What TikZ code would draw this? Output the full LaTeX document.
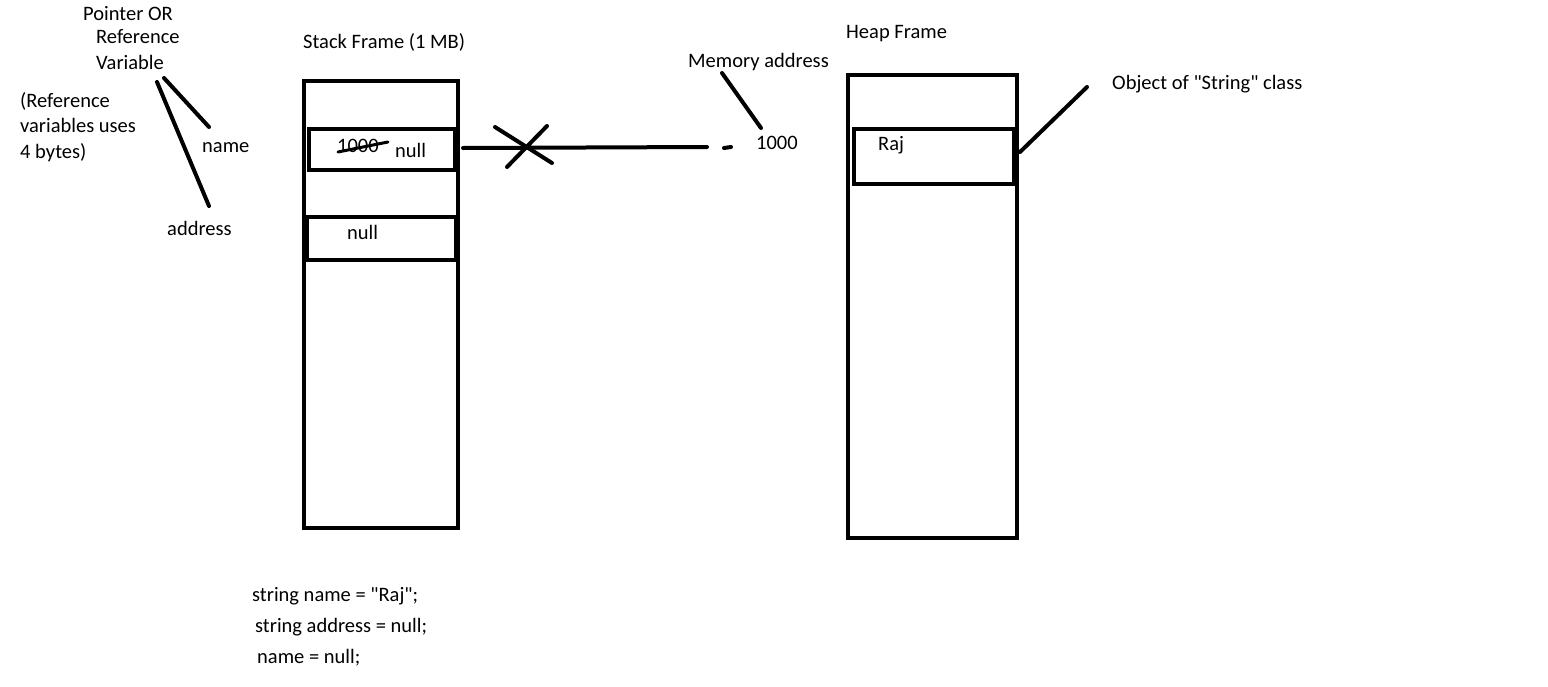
\documentclass[tikz,border=0pt]{standalone}
\usepackage{fontspec}
\setmainfont{Carlito}[Ligatures=TeXOff]
\usetikzlibrary{positioning}

\tikzset{
  box/.style = {draw, line width = 4pt, minimum width = #1, inner sep = 0pt},
  lbl/.style = {anchor = base west, inner sep = 0pt, font = \fontsize{20.5}{24}\selectfont},
  stroke/.style = {line width = 4pt, line cap = round}
}

\begin{document}
\begin{tikzpicture} [x = 1pt, y = -1pt]
\useasboundingbox (0, 0) rectangle (1548, 686);
% frames
\node[box = 153.5pt, minimum height = 447pt] (stack) at (380.75, 304.5){};
\node[box = 146pt, minimum height = 41pt] (namecell) at (382.0, 149.5){};
\node[box = 148.5pt, minimum height = 43pt] (addrcell) at (381.25, 238.5){};
\node[box = 169pt, minimum height = 463pt] (heap) at (932.5, 306.5){};
\node[box = 160pt, minimum height = 55pt] (objcell) at (934.0, 156.5){};
% titles
\node[lbl] (stacktitle) at (303, 48){Stack Frame (1 MB)};
\node[lbl] (heaptitle) at (846, 38){Heap Frame};
% left labels
\node[lbl] (pointer) at (83, 20){Pointer OR};
\node[lbl] (reference) at (96, 43){Reference};
\node[lbl] (variable) at (96, 69){Variable};
\node[lbl] (note1) at (20, 107){(Reference};
\node[lbl] (note2) at (20, 132){variables uses};
\node[lbl] (note3) at (20, 158){4 bytes)};
\node[lbl] (namelbl) at (202, 152){name};
\node[lbl] (addrlbl) at (167, 235){address};
% cell contents
\node[lbl] (oldval) at (337, 152){1000};
\node[lbl] (nameval) at (395, 157){null};
\node[lbl] (addrval) at (347, 239){null};
\node[lbl] (rajval) at (878, 150){Raj};
% memory address
\node[lbl] (memlbl) at (688, 67){Memory address};
\node[lbl] (memval) at (756, 149){1000};
\node[lbl] (objlbl) at (1112, 89){Object of "String" class};
% code
\node[lbl] (code1) at (252, 601){string name = "Raj";};
\node[lbl] (code2) at (255, 632){string address = null;};
\node[lbl] (code3) at (257, 663){name = null;};
% line ends
\coordinate (v1) at (164, 78);
\coordinate (n1) at (209, 127);
\coordinate (v2) at (157, 82);
\coordinate (a1) at (209, 206);
\coordinate (s1) at (338, 152);
\coordinate (s2) at (388, 142);
\coordinate (p1) at (463, 148);
\coordinate (p2) at (707, 147);
\coordinate (d1) at (724, 148);
\coordinate (d2) at (731, 147);
\coordinate (x1) at (495, 127);
\coordinate (x2) at (552, 163);
\coordinate (x3) at (507, 167);
\coordinate (x4) at (547, 126);
\coordinate (m1) at (722, 73);
\coordinate (m2) at (761, 128);
\coordinate (o1) at (1020, 152);
\coordinate (o2) at (1087, 87);
% connectors
\draw[stroke] (v1) -- (n1);
\draw[stroke] (v2) -- (a1);
\draw[line width = 3pt, line cap = round] (s1) -- (s2);
\draw[stroke] (p1) -- (p2);
\draw[stroke] (d1) -- (d2);
\draw[stroke] (x1) -- (x2);
\draw[stroke] (x3) -- (x4);
\draw[stroke] (m1) -- (m2);
\draw[stroke] (o1) -- (o2);
\end{tikzpicture}
\end{document}
